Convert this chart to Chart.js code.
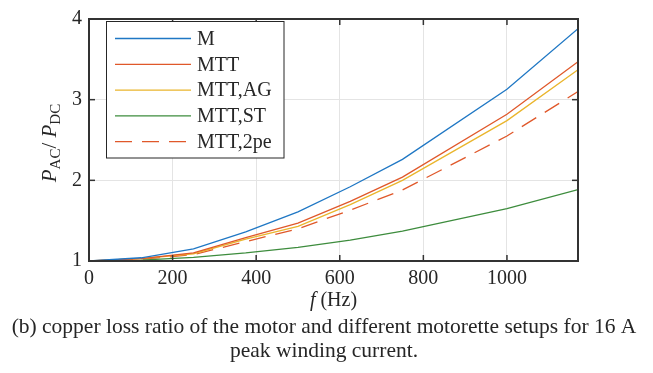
<!DOCTYPE html>
<html><head><meta charset="utf-8">
<script src="https://cdn.jsdelivr.net/npm/chart.js@4/dist/chart.umd.min.js"></script>
<style>html,body{margin:0;padding:0;background:#fff;}#wrap{width:653px;height:373px;}</style>
</head><body><div id="wrap"><canvas id="c" width="653" height="373"></canvas></div>
<script>
const freqs = [0, 125, 250, 375, 500, 625, 750, 1000, 1170];
const seriesM     = [1, 1.04, 1.15, 1.36, 1.61, 1.92, 2.26, 3.13, 3.88];
const seriesMTT   = [1, 1.03, 1.10, 1.29, 1.47, 1.74, 2.04, 2.82, 3.47];
const seriesMTTAG = [1, 1.03, 1.09, 1.27, 1.43, 1.70, 2.00, 2.74, 3.37];
const seriesMTTST = [1, 1.01, 1.045, 1.10, 1.17, 1.26, 1.37, 1.65, 1.885];
const seriesMTT2pe= [1, 1.02, 1.08, 1.24, 1.40, 1.63, 1.88, 2.55, 3.10];
const seriesNames = ['M', 'MTT', 'MTT,AG', 'MTT,ST', 'MTT,2pe'];
const xTicks = [0, 200, 400, 600, 800, 1000];
const yTicks = [1, 2, 3, 4];
const captionLines = ['(b) copper loss ratio of the motor and different motorette setups for 16 A', 'peak winding current.'];

const SERIF = '"Liberation Serif", "Times New Roman", serif';
const colors = ['#1f77c4', '#e0582a', '#eab52c', '#3d8c3d', '#e0582a'];
const dashes = [[], [], [], [], [17, 10]];
const allSeries = [seriesM, seriesMTT, seriesMTTAG, seriesMTTST, seriesMTT2pe];

const datasets = allSeries.map((s, i) => ({
  label: seriesNames[i],
  data: s.map((v, j) => ({x: freqs[j], y: v})),
  borderColor: colors[i],
  borderWidth: 1.3,
  borderDash: dashes[i],
  pointRadius: 0,
  fill: false,
  tension: 0
}));

const AX = '#333333';
const decor = {
  id: 'decor',
  afterDraw(chart) {
    const ctx = chart.ctx, a = chart.chartArea;
    const xs = chart.scales.x, ys = chart.scales.y;
    ctx.save();
    ctx.strokeStyle = AX; ctx.lineWidth = 1.5;
    const tl = 6;
    xTicks.forEach(v => {
      const px = xs.getPixelForValue(v);
      ctx.beginPath(); ctx.moveTo(px, a.bottom); ctx.lineTo(px, a.bottom - tl); ctx.stroke();
      ctx.beginPath(); ctx.moveTo(px, a.top); ctx.lineTo(px, a.top + tl); ctx.stroke();
    });
    yTicks.forEach(v => {
      const py = ys.getPixelForValue(v);
      ctx.beginPath(); ctx.moveTo(a.left, py); ctx.lineTo(a.left + tl, py); ctx.stroke();
      ctx.beginPath(); ctx.moveTo(a.right, py); ctx.lineTo(a.right - tl, py); ctx.stroke();
    });
    ctx.lineWidth = 2;
    ctx.strokeRect(a.left, a.top, a.right - a.left, a.bottom - a.top);

    // legend
    const lx = 106.5, ly = 21.5, lw = 177.5, lh = 136.5;
    ctx.fillStyle = '#fff';
    ctx.fillRect(lx, ly, lw, lh);
    ctx.lineWidth = 1; ctx.strokeStyle = '#262626';
    ctx.strokeRect(lx, ly, lw, lh);
    chart.data.datasets.forEach((ds, i) => {
      const cy = 38.5 + i * 25.8;
      ctx.strokeStyle = ds.borderColor; ctx.lineWidth = 1.3;
      ctx.setLineDash(ds.borderDash || []);
      ctx.beginPath(); ctx.moveTo(115, cy); ctx.lineTo(191, cy); ctx.stroke();
      ctx.setLineDash([]);
      ctx.fillStyle = '#262626';
      ctx.font = '20px ' + SERIF;
      ctx.textBaseline = 'middle'; ctx.textAlign = 'left';
      ctx.fillText(ds.label, 197, cy + 1);
    });

    // x title
    ctx.fillStyle = '#262626';
    ctx.textBaseline = 'middle';
    const f1 = 'italic 20px ' + SERIF, f2 = '20px ' + SERIF;
    ctx.font = f1; const w1 = ctx.measureText('f').width;
    ctx.font = f2; const w2 = ctx.measureText(' (Hz)').width;
    let sx = (a.left + a.right) / 2 - (w1 + w2) / 2;
    ctx.textAlign = 'left';
    ctx.font = f1; ctx.fillText('f', sx, 301);
    ctx.font = f2; ctx.fillText(' (Hz)', sx + w1, 301);

    // y title (rotated)
    ctx.save();
    ctx.translate(52, 143);
    ctx.rotate(-Math.PI / 2);
    const parts = [
      {t: 'P', f: 'italic 21px ' + SERIF, dy: 0},
      {t: 'AC', f: '15px ' + SERIF, dy: 6},
      {t: '/ ', f: '21px ' + SERIF, dy: 0},
      {t: 'P', f: 'italic 21px ' + SERIF, dy: 0},
      {t: 'DC', f: '15px ' + SERIF, dy: 6}
    ];
    let tw = 0;
    parts.forEach(p => { ctx.font = p.f; p.w = ctx.measureText(p.t).width; tw += p.w; });
    let px = -tw / 2;
    ctx.textAlign = 'left'; ctx.textBaseline = 'middle';
    parts.forEach(p => { ctx.font = p.f; ctx.fillText(p.t, px, p.dy - 2); px += p.w; });
    ctx.restore();

    // caption
    ctx.font = '21.5px ' + SERIF;
    ctx.textAlign = 'center'; ctx.fillStyle = '#262626';
    ctx.fillText(captionLines[0], 324, 327);
    ctx.fillText(captionLines[1], 324, 351);
    ctx.restore();
  }
};

new Chart(document.getElementById('c'), {
  type: 'line',
  data: {datasets},
  options: {
    responsive: false,
    animation: false,
    devicePixelRatio: 1,
    layout: {padding: {left: 0, top: 9, right: 75, bottom: 0}},
    plugins: {legend: {display: false}, tooltip: {enabled: false}},
    scales: {
      x: {
        type: 'linear', min: 0, max: 1170,
        afterBuildTicks: s => { s.ticks = xTicks.map(v => ({value: v})); },
        afterFit: s => { s.height = 112; },
        grid: {color: '#e4e4e4', lineWidth: 1, drawTicks: false},
        border: {display: false},
        ticks: {color: '#262626', font: {family: SERIF, size: 20}, padding: 6, maxRotation: 0, callback: v => String(v)}
      },
      y: {
        type: 'linear', min: 1, max: 4,
        afterBuildTicks: s => { s.ticks = yTicks.map(v => ({value: v})); },
        afterFit: s => { s.width = 89; },
        grid: {color: '#e4e4e4', lineWidth: 1, drawTicks: false},
        border: {display: false},
        ticks: {color: '#262626', font: {family: SERIF, size: 20}, padding: 7, callback: v => String(v)}
      }
    }
  },
  plugins: [decor]
});
</script></body></html>
